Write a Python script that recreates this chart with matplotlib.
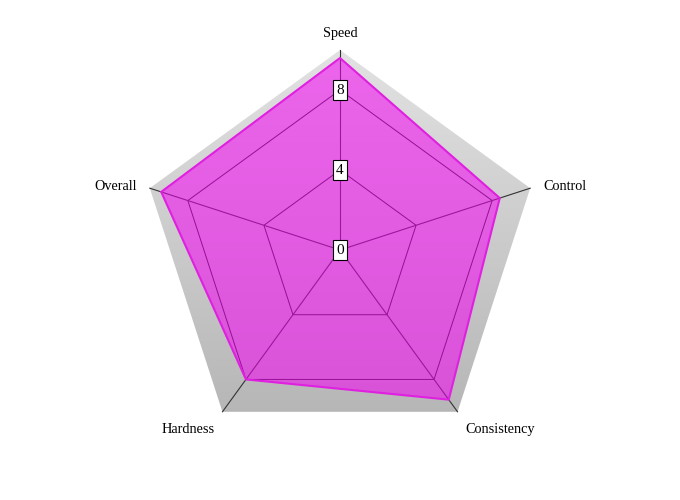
import numpy as np
import matplotlib
matplotlib.use("Agg")
import matplotlib.pyplot as plt
from matplotlib.patches import Polygon
from matplotlib.colors import LinearSegmentedColormap

plt.rcParams['font.family'] = ['Liberation Serif', 'DejaVu Serif']

# data
categories = ['Speed', 'Control', 'Consistency', 'Hardness', 'Overall']
values = [9.6, 8.4, 9.25, 8.0, 9.4]
ticks = [0, 4, 8]
r_max = 10

n = len(categories)
angles = np.pi / 2 - np.arange(n) * 2 * np.pi / n

def pts(r):
    r = np.broadcast_to(r, (n,))
    return np.column_stack([r * np.cos(angles), r * np.sin(angles)])

fig = plt.figure(figsize=(6.8, 5), dpi=100)
ax = fig.add_axes([0, 0, 1, 1])
ax.set_xlim(-17, 17)
ax.set_ylim(-12.5, 12.5)
ax.axis('off')

# gray gradient background pentagon
outer = Polygon(pts(r_max), closed=True, facecolor='none', edgecolor='none')
ax.add_patch(outer)
grad = np.linspace(0, 1, 256).reshape(-1, 1)
gray_cmap = LinearSegmentedColormap.from_list('g', ['#b2b2b2', '#e2e2e2'])
im = ax.imshow(grad, cmap=gray_cmap, extent=[-r_max, r_max, -r_max, r_max],
               origin='lower', aspect='auto', zorder=1)
im.set_clip_path(outer)

# grid rings and spokes
for t in ticks[1:]:
    ring = np.vstack([pts(t), pts(t)[:1]])
    ax.plot(ring[:, 0], ring[:, 1], color='#222222', lw=0.7, zorder=2)
for x, y in pts(r_max):
    ax.plot([0, x], [0, y], color='#333333', lw=0.8, zorder=2)

# data polygon
ax.add_patch(Polygon(pts(np.array(values)), closed=True, facecolor='#f500f5',
                     alpha=0.55, edgecolor='none', zorder=3))
ax.add_patch(Polygon(pts(np.array(values)), closed=True, facecolor='none',
                     edgecolor='#e020e0', lw=1.5, zorder=4))

# tick labels
for t in ticks:
    ax.text(0, t, str(t), ha='center', va='center', fontsize=11, zorder=5,
            bbox=dict(boxstyle='square,pad=0.22', facecolor='white',
                      edgecolor='black', lw=0.8))

# category labels
for i, (name, a) in enumerate(zip(categories, angles)):
    c, s = np.cos(a), np.sin(a)
    if abs(c) < 0.01:
        ha = 'center'
        r = 10.8
    elif c > 0:
        ha = 'left'
        r = 10.7
    else:
        ha = 'right'
        r = 10.7
    y = r * s
    if s < -0.5:
        y -= 0.3
    elif abs(c) > 0.01:
        y -= 0.15
    ax.text(r * c, y, name, ha=ha, va='center', fontsize=10.3)

fig.savefig('out.png', dpi=100)
